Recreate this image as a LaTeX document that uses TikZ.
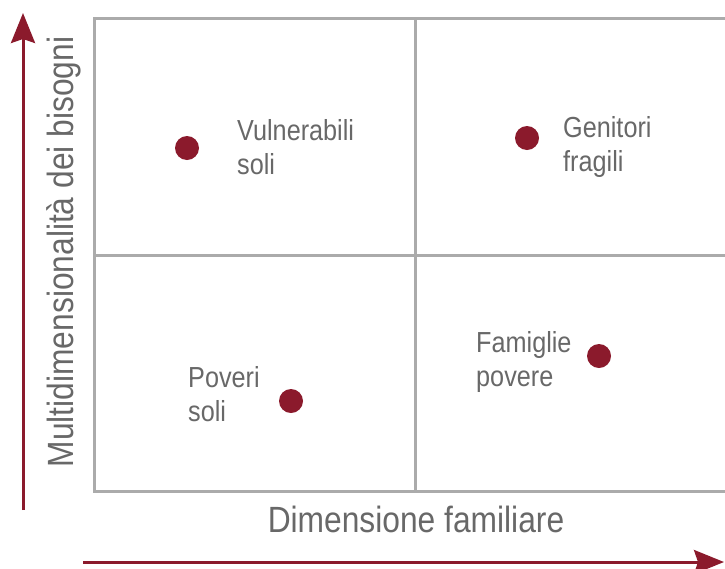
\documentclass[tikz,border=0pt]{standalone}
\usepackage{fontspec}
\setmainfont{Liberation Sans}[FakeStretch=0.87]
\usetikzlibrary{arrows.meta}
\definecolor{wine}{HTML}{8B1A2C}
\definecolor{gridgray}{HTML}{ABABAB}
\definecolor{txtgray}{HTML}{686868}
\tikzset{
  cell/.style={draw=gridgray, line width=3pt},
  dot/.style={circle, fill=wine, minimum size=24pt, inner sep=0pt},
  lbl/.style={anchor=north west, inner sep=0pt, align=left, text=txtgray, font=\fontsize{29}{34}\selectfont},
  axislbl/.style={inner sep=0pt, text=txtgray, font=\fontsize{36.5}{40}\selectfont},
  axisarrow/.style={draw=wine, line width=3pt, -{Stealth[length=30pt,width=24pt,inset=4pt]}}
}
\begin{document}
\begin{tikzpicture}[x=1pt,y=-1pt]
\useasboundingbox (0,0) rectangle (725,568);
% grid
\draw[cell] (94,18) rectangle (740,491);
\draw[cell] (415,18) -- (415,491);
\draw[cell] (94,255) -- (740,255);
% axes
\coordinate (ys) at (23,510);
\coordinate (ye) at (23,13);
\coordinate (xs) at (83,562);
\coordinate (xe) at (724,562);
\draw[axisarrow] (ys) -- (ye);
\draw[axisarrow] (xs) -- (xe);
% axis labels
\node[axislbl, rotate=90] (ylab) at (64,252) {Multidimensionalità dei bisogni};
\node[axislbl] (xlab) at (416,519) {Dimensione familiare};
% dots
\node[dot] (d1) at (187,148) {};
\node[dot] (d2) at (527,138) {};
\node[dot] (d3) at (291,401) {};
\node[dot] (d4) at (599,356) {};
% labels
\node[lbl] (l1) at (237,119) {Vulnerabili\\soli};
\node[lbl] (l2) at (563,116) {Genitori\\fragili};
\node[lbl] (l3) at (188,366) {Poveri\\soli};
\node[lbl] (l4) at (476,331) {Famiglie\\povere};
\end{tikzpicture}
\end{document}
